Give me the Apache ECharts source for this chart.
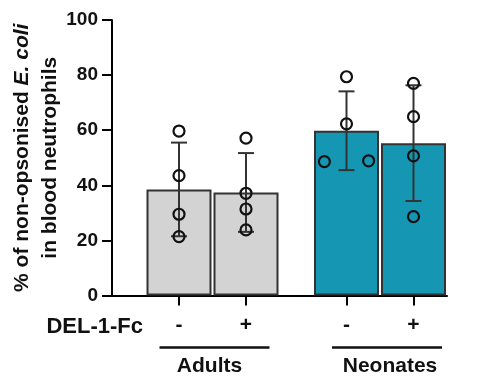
<!DOCTYPE html>
<html>
<head>
<meta charset="utf-8">
<script src="https://cdn.jsdelivr.net/npm/echarts@6/dist/echarts.min.js"></script>
<style>
  html, body { margin: 0; padding: 0; background: #fff; }
  #main { width: 478px; height: 376px; }
</style>
</head>
<body>
<div id="main"></div>
<script>
// 分组与处理
const groups = ['Adults', 'Neonates'];
const treatments = ['-', '+', '-', '+'];
const barColors = ['#d3d3d3', '#d3d3d3', '#1597b3', '#1597b3'];

// 柱高 (均值) 与误差 (SD)
const means = [38.5, 37.4, 59.8, 55.3];
const sds = [17.0, 14.3, 14.3, 21.0];

// 单个数据点
const points = [
  [59.7, 43.5, 29.5, 21.4],
  [57.1, 37.1, 31.4, 23.8],
  [79.4, 62.3, 48.6, 48.9],
  [77.0, 64.9, 50.7, 28.6]
];
// 点的水平抖动 (单位: 柱位)
const jitter = [
  [0, 0, 0, 0],
  [0, 0, 0, 0],
  [0, 0, -0.33, 0.33],
  [0, 0, 0, 0]
];

// 每个柱的位置: 组之间空半格
const xPos = treatments.map((t, i) => 1 + i + Math.floor(i / 2) * 0.5);

const font = '"Liberation Sans", Arial, sans-serif';

const chart = echarts.init(document.getElementById('main'));

const scatterData = [];
points.forEach((arr, i) => arr.forEach((v, j) => scatterData.push([xPos[i] + jitter[i][j], v])));

chart.setOption({
  animation: false,
  grid: { left: 112, right: 31, top: 20, bottom: 80.5, outerBoundsMode: 'none' },
  xAxis: {
    type: 'value',
    min: 0,
    max: 5,
    splitLine: { show: false },
    axisLine: { show: true, onZero: false, lineStyle: { color: '#000', width: 2 } },
    axisTick: { show: true, customValues: xPos, length: 10, lineStyle: { color: '#000', width: 2 } },
    axisLabel: {
      show: true,
      customValues: xPos,
      margin: 19,
      formatter: (v) => treatments[xPos.indexOf(v)] || '',
      color: '#111', fontFamily: font, fontWeight: 'bold', fontSize: 21
    }
  },
  yAxis: {
    type: 'value',
    min: 0,
    max: 100,
    interval: 20,
    splitLine: { show: false },
    axisLine: { show: true, lineStyle: { color: '#000', width: 2 } },
    axisTick: { show: true, length: 10, lineStyle: { color: '#000', width: 2 } },
    axisLabel: { margin: 14, color: '#111', fontFamily: font, fontWeight: 'bold', fontSize: 19 },
    name: '{n|% of non-opsonised }{i|E. coli}\n{n|in blood neutrophils}',
    nameLocation: 'middle',
    nameGap: 48,
    nameMoveOverlap: false,
    nameRotate: 90,
    nameTextStyle: {
      lineHeight: 28,
      rich: {
        n: { fontFamily: font, fontWeight: 'bold', fontSize: 21, color: '#111', lineHeight: 28 },
        i: { fontFamily: font, fontWeight: 'bold', fontStyle: 'italic', fontSize: 21, color: '#111', lineHeight: 28 }
      }
    }
  },
  series: [
    {
      type: 'bar',
      barWidth: 65,
      data: means.map((m, i) => ({
        value: [xPos[i], m],
        itemStyle: { color: barColors[i], borderColor: '#333', borderWidth: 2 }
      })),
      z: 1
    },
    {
      // 误差线
      type: 'custom',
      z: 3,
      data: means.map((m, i) => [xPos[i], m - sds[i], m + sds[i]]),
      renderItem: (params, api) => {
        const lo = api.coord([api.value(0), api.value(1)]);
        const hi = api.coord([api.value(0), api.value(2)]);
        const w = 8;
        const style = { stroke: '#333', lineWidth: 2 };
        return {
          type: 'group',
          children: [
            { type: 'line', shape: { x1: hi[0], y1: hi[1], x2: lo[0], y2: lo[1] }, style },
            { type: 'line', shape: { x1: hi[0] - w, y1: hi[1], x2: hi[0] + w, y2: hi[1] }, style },
            { type: 'line', shape: { x1: lo[0] - w, y1: lo[1], x2: lo[0] + w, y2: lo[1] }, style }
          ]
        };
      }
    },
    {
      type: 'scatter',
      z: 4,
      symbol: 'circle',
      symbolSize: 11,
      itemStyle: { color: 'transparent', borderColor: '#111', borderWidth: 2.2, opacity: 1 },
      data: scatterData
    }
  ]
});

// 组标签与 DEL-1-Fc 标签
const toX = (v) => chart.convertToPixel({ xAxisIndex: 0 }, v);
const y0 = chart.convertToPixel({ yAxisIndex: 0 }, 0);
const lineShift = [2, 7];
const textShift = [-3, 10];
const graphics = [
  {
    type: 'text',
    style: {
      text: 'DEL-1-Fc', x: toX(0) + 31, y: y0 + 31, align: 'right', verticalAlign: 'middle',
      font: 'bold 22px ' + font, fill: '#111'
    }
  }
];
groups.forEach((g, gi) => {
  const c = (toX(xPos[gi * 2]) + toX(xPos[gi * 2 + 1])) / 2;
  graphics.push({
    type: 'line',
    shape: { x1: c + lineShift[gi] - 55, y1: y0 + 52, x2: c + lineShift[gi] + 55, y2: y0 + 52 },
    style: { stroke: '#111', lineWidth: 2.5 }
  });
  graphics.push({
    type: 'text',
    style: {
      text: g, x: c + textShift[gi], y: y0 + 71, align: 'center', verticalAlign: 'middle',
      font: 'bold 21px ' + font, fill: '#111'
    }
  });
});
chart.setOption({ graphic: graphics });
</script>
</body>
</html>
